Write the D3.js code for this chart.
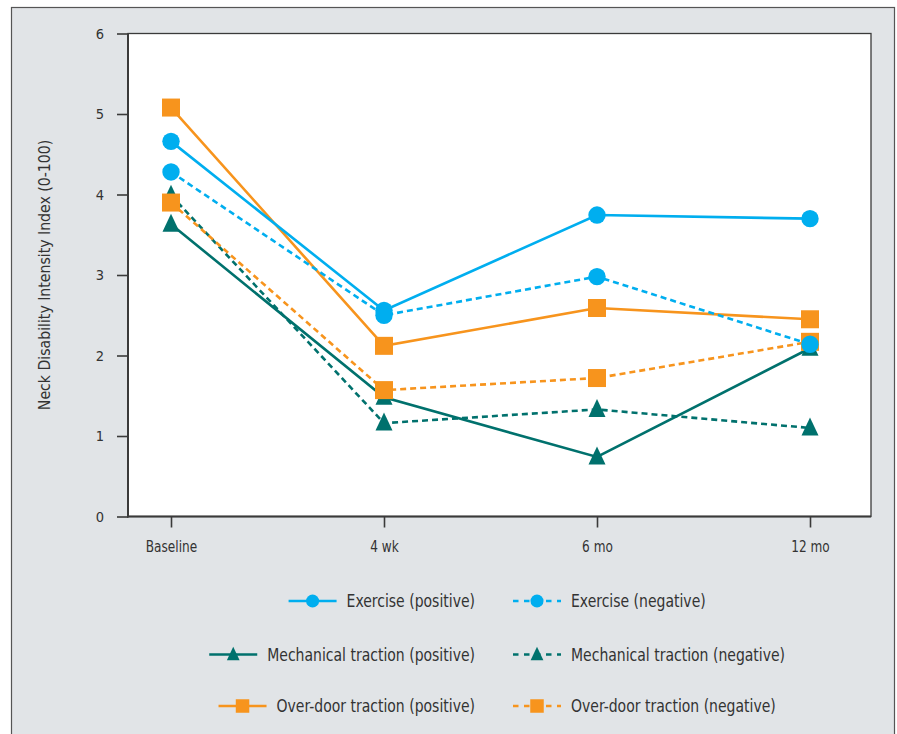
<!DOCTYPE html>
<html>
<head>
<meta charset="utf-8">
<script src="https://cdn.jsdelivr.net/npm/d3@7"></script>
<style>
html,body{margin:0;padding:0;background:#fff;}
svg{display:block;}
text{font-family:"Liberation Sans Narrow","Arial Narrow","DejaVu Sans Condensed",sans-serif;fill:#333;}
</style>
</head>
<body>
<svg id="chart" width="897" height="734"></svg>
<script>
const categories = ["Baseline", "4 wk", "6 mo", "12 mo"];
const yTicks = [0, 1, 2, 3, 4, 5, 6];
const yLabel = "Neck Disability Intensity Index (0-100)";

const exercisePositive = [4.66, 2.56, 3.745, 3.70];
const exerciseNegative = [4.28, 2.50, 2.98, 2.14];
const mechanicalPositive = [3.63, 1.48, 0.74, 2.09];
const mechanicalNegative = [3.99, 1.16, 1.33, 1.10];
const overdoorPositive = [5.08, 2.12, 2.59, 2.45];
const overdoorNegative = [3.90, 1.57, 1.72, 2.17];

const seriesNames = [
  "Exercise (positive)", "Exercise (negative)",
  "Mechanical traction (positive)", "Mechanical traction (negative)",
  "Over-door traction (positive)", "Over-door traction (negative)"
];

const CYAN = "#00aeef", TEAL = "#00716d", ORANGE = "#f7941d";
const series = [
  {name: seriesNames[2], values: mechanicalPositive, color: TEAL, dashed: false, shape: "triangle"},
  {name: seriesNames[3], values: mechanicalNegative, color: TEAL, dashed: true, shape: "triangle"},
  {name: seriesNames[4], values: overdoorPositive, color: ORANGE, dashed: false, shape: "square"},
  {name: seriesNames[5], values: overdoorNegative, color: ORANGE, dashed: true, shape: "square"},
  {name: seriesNames[0], values: exercisePositive, color: CYAN, dashed: false, shape: "circle"},
  {name: seriesNames[1], values: exerciseNegative, color: CYAN, dashed: true, shape: "circle"}
];

const svg = d3.select("#chart");

// outer panel
svg.append("rect").attr("x", 11.5).attr("y", 7.5).attr("width", 883).attr("height", 740)
  .attr("fill", "#e1e4e7").attr("stroke", "#555").attr("stroke-width", 1.2);

const plot = {left: 128, right: 871, top: 33.5, bottom: 516.5};

// plot area
svg.append("rect").attr("x", plot.left).attr("y", plot.top)
  .attr("width", plot.right - plot.left).attr("height", plot.bottom - plot.top)
  .attr("fill", "#fff").attr("stroke", "#3a3a3a").attr("stroke-width", 1.3);

const x = d3.scalePoint().domain(categories).range([171, 810]);
const y = d3.scaleLinear().domain([0, 6]).range([plot.bottom, plot.top]);

// axis lines (thicker left & bottom)
svg.append("line").attr("x1", plot.left).attr("x2", plot.left).attr("y1", plot.top).attr("y2", plot.bottom + 1)
  .attr("stroke", "#3a3a3a").attr("stroke-width", 2);
svg.append("line").attr("x1", plot.left - 1).attr("x2", plot.right).attr("y1", plot.bottom).attr("y2", plot.bottom)
  .attr("stroke", "#3a3a3a").attr("stroke-width", 2);

const FONT = '"Liberation Sans Narrow","DejaVu Sans Condensed",sans-serif';

const yAxis = svg.append("g").attr("transform", `translate(${plot.left},0)`)
  .call(d3.axisLeft(y).tickValues(yTicks).tickFormat(d3.format("d")).tickSize(11).tickPadding(13));
yAxis.select(".domain").remove();
yAxis.selectAll(".tick line").attr("stroke", "#3a3a3a").attr("stroke-width", 1.6);
yAxis.selectAll(".tick text").attr("font-size", 14.5).attr("fill", "#333").style("font-family", FONT);

const xAxis = svg.append("g").attr("transform", `translate(0,${plot.bottom})`)
  .call(d3.axisBottom(x).tickSize(11).tickPadding(14));
xAxis.select(".domain").remove();
xAxis.selectAll(".tick line").attr("stroke", "#3a3a3a").attr("stroke-width", 1.6);
xAxis.selectAll(".tick text").attr("font-size", 15.5).attr("fill", "#333").style("font-family", FONT)
  .attr("transform", "scale(0.87,1)");

// condensed text helper: horizontal squeeze to mimic a narrow typeface
function narrowText(parent, tx, ty, str, size, sx, anchor, rot) {
  const g = parent.append("g").attr("transform", `translate(${tx},${ty})${rot ? ` rotate(${rot})` : ""} scale(${sx},1)`);
  return g.append("text").attr("x", 0).attr("y", 0).attr("dy", "0.35em")
    .attr("text-anchor", anchor).attr("font-size", size).text(str);
}

narrowText(svg, 44, (plot.top + plot.bottom) / 2, yLabel, 16.5, 0.95, "middle", -90);

const DASH = "6,4";
const line = d3.line().x((d, i) => x(categories[i])).y(d => y(d));

function drawMarker(g, shape, cx, cy, color, scale) {
  const s = scale || 1;
  if (shape === "circle") {
    g.append("circle").attr("cx", cx).attr("cy", cy).attr("r", 8.7 * s).attr("fill", color);
  } else if (shape === "square") {
    const h = 9 * s;
    g.append("rect").attr("x", cx - h).attr("y", cy - h).attr("width", 2 * h).attr("height", 2 * h).attr("fill", color);
  } else {
    const w = 8.5 * s, hTop = 10.5 * s, hBot = 7.5 * s;
    g.append("path").attr("d", `M${cx},${cy - hTop}L${cx + w},${cy + hBot}L${cx - w},${cy + hBot}Z`).attr("fill", color);
  }
}

const gLines = svg.append("g");
series.forEach(s => {
  const g = gLines.append("g");
  g.append("path").datum(s.values).attr("d", line).attr("fill", "none")
    .attr("stroke", s.color).attr("stroke-width", 2.6)
    .attr("stroke-dasharray", s.dashed ? DASH : null);
  s.values.forEach((v, i) => drawMarker(g, s.shape, x(categories[i]), y(v), s.color));
});

// legend
const legendRows = [
  [seriesNames[0], seriesNames[1], CYAN, "circle"],
  [seriesNames[2], seriesNames[3], TEAL, "triangle"],
  [seriesNames[4], seriesNames[5], ORANGE, "square"]
];
const rowY = [601, 654.5, 706];
const leftTextEnd = 475, rightStart = 513, SAMPLE = 48, GAP = 10;
const LSIZE = 18, LSX = 0.865;
legendRows.forEach((r, i) => {
  const yy = rowY[i];
  const g = svg.append("g");
  const t1 = narrowText(g, leftTextEnd, yy, r[0], LSIZE, LSX, "end");
  const w1 = t1.node().getComputedTextLength() * LSX;
  const lx1 = leftTextEnd - w1 - GAP;
  g.append("line").attr("x1", lx1 - SAMPLE).attr("x2", lx1).attr("y1", yy).attr("y2", yy)
    .attr("stroke", r[2]).attr("stroke-width", 2.6);
  drawMarker(g, r[3], lx1 - SAMPLE / 2, yy, r[2], 0.75);

  g.append("line").attr("x1", rightStart).attr("x2", rightStart + SAMPLE).attr("y1", yy).attr("y2", yy)
    .attr("stroke", r[2]).attr("stroke-width", 2.6).attr("stroke-dasharray", "5.5,5.5");
  drawMarker(g, r[3], rightStart + SAMPLE / 2, yy, r[2], 0.75);
  narrowText(g, rightStart + SAMPLE + GAP, yy, r[1], LSIZE, LSX, "start");
});
</script>
</body>
</html>
